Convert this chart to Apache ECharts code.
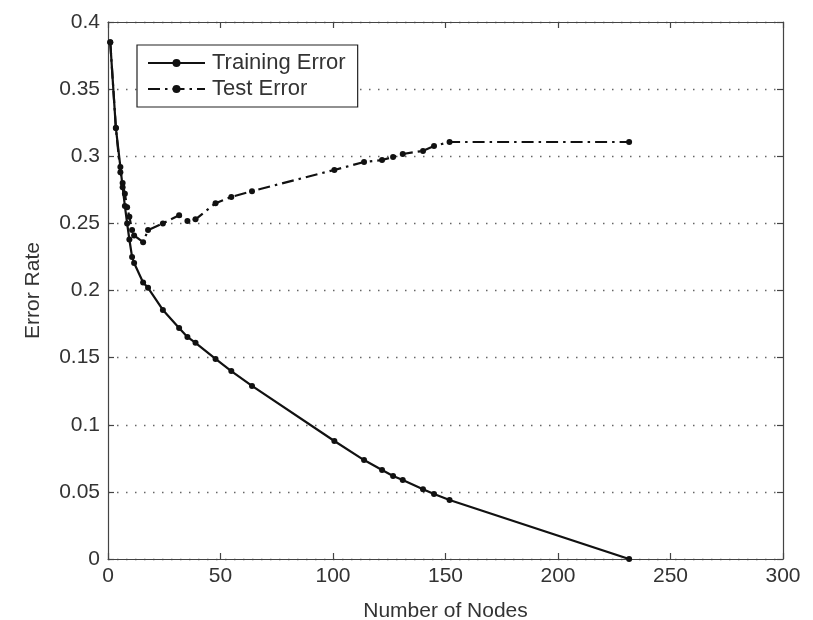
<!DOCTYPE html>
<html>
<head>
<meta charset="utf-8">
<script src="https://cdn.jsdelivr.net/npm/echarts@6/dist/echarts.min.js"></script>
<style>
  html, body { margin: 0; padding: 0; background: #fff; }
  #chart { width: 813px; height: 620px; }
</style>
</head>
<body>
<div id="chart"></div>
<script>
// Tree size (number of nodes) at which each error was measured
const nodeCounts = [1, 3.5, 5.5, 6.5, 7.5, 8.5, 9.5, 10.7, 11.6, 15.6, 17.8, 24.4, 31.6, 35.3, 38.9,
  47.8, 54.8, 64, 100.6, 113.8, 121.8, 126.7, 131, 140, 144.9, 151.8, 231.6];

// Error on the training set
const trainingError = [0.385, 0.321, 0.292, 0.277, 0.263, 0.25, 0.238, 0.225, 0.2205, 0.206, 0.202,
  0.1855, 0.172, 0.1654, 0.161, 0.149, 0.140, 0.1289, 0.0879, 0.0737, 0.0663, 0.0618, 0.0588,
  0.052, 0.0484, 0.044, 0.0];

// Error on the held-out test set
const testError = [0.385, 0.321, 0.288, 0.28, 0.272, 0.262, 0.255, 0.245, 0.241, 0.236, 0.245,
  0.250, 0.256, 0.2518, 0.253, 0.265, 0.2697, 0.274, 0.2898, 0.2957, 0.2972, 0.2994, 0.3017,
  0.304, 0.3076, 0.3106, 0.3106];

const xTicks = { min: 0, max: 300, interval: 50 };
const yTicks = { min: 0, max: 0.4, interval: 0.05 };

const pairs = (xs, ys) => xs.map((x, i) => [x, ys[i]]);

const font = 'Liberation Sans, Arial, Helvetica, sans-serif';
const ink = '#111';
const textInk = '#333';

const chart = echarts.init(document.getElementById('chart'), null, { renderer: 'canvas' });

const frameAxisLine = { show: true, onZero: false, lineStyle: { color: '#444', width: 1.2 } };
const innerTicks = { show: true, inside: true, length: 6, lineStyle: { color: '#444', width: 1.2 } };

chart.setOption({
  animation: false,
  backgroundColor: '#fff',
  grid: { left: 108, right: 30, top: 22, bottom: 61, containLabel: false, outerBoundsMode: 'none' },
  legend: {
    left: 137, top: 45,
    orient: 'vertical',
    width: 220,
    padding: [7, 12, 7, 10],
    itemWidth: 57, itemHeight: 10, itemGap: 4,
    borderColor: '#222', borderWidth: 1.2,
    backgroundColor: '#fff',
    textStyle: { fontFamily: font, fontSize: 22, color: textInk, padding: [0, 0, 0, 2] },
    data: ['Training Error', 'Test Error']
  },
  xAxis: [
    {
      type: 'value', position: 'bottom', ...xTicks,
      name: 'Number of Nodes', nameLocation: 'middle', nameGap: 42,
      nameTextStyle: { fontFamily: font, fontSize: 21, color: textInk },
      axisLine: frameAxisLine, axisTick: innerTicks,
      axisLabel: { fontFamily: font, fontSize: 21, color: textInk, margin: 7 },
      splitLine: { show: false }
    },
    {
      type: 'value', position: 'top', ...xTicks,
      axisLine: frameAxisLine, axisTick: innerTicks,
      axisLabel: { show: false }, splitLine: { show: false }
    }
  ],
  yAxis: [
    {
      type: 'value', position: 'left', ...yTicks,
      name: 'Error Rate', nameLocation: 'middle', nameGap: 64, nameRotate: 90,
      nameTextStyle: { fontFamily: font, fontSize: 21, color: textInk },
      axisLine: frameAxisLine, axisTick: innerTicks,
      axisLabel: { fontFamily: font, fontSize: 21, color: textInk, margin: 8 },
      splitLine: { show: true, lineStyle: { color: '#666', width: 1.3, type: [1.5, 7.5] } }
    },
    {
      type: 'value', position: 'right', ...yTicks,
      axisLine: frameAxisLine, axisTick: innerTicks,
      axisLabel: { show: false }, splitLine: { show: false }
    }
  ],
  series: [
    {
      name: 'Training Error', type: 'line',
      xAxisIndex: 0, yAxisIndex: 0,
      data: pairs(nodeCounts, trainingError),
      symbol: 'circle', symbolSize: 6,
      itemStyle: { color: ink },
      lineStyle: { color: ink, width: 2.2, type: 'solid' },
      z: 3
    },
    {
      name: 'Test Error', type: 'line',
      xAxisIndex: 0, yAxisIndex: 0,
      data: pairs(nodeCounts, testError),
      symbol: 'circle', symbolSize: 6,
      itemStyle: { color: ink },
      lineStyle: { color: ink, width: 2.2, type: [12, 5, 2.5, 5] },
      z: 2
    }
  ]
});
</script>
</body>
</html>
